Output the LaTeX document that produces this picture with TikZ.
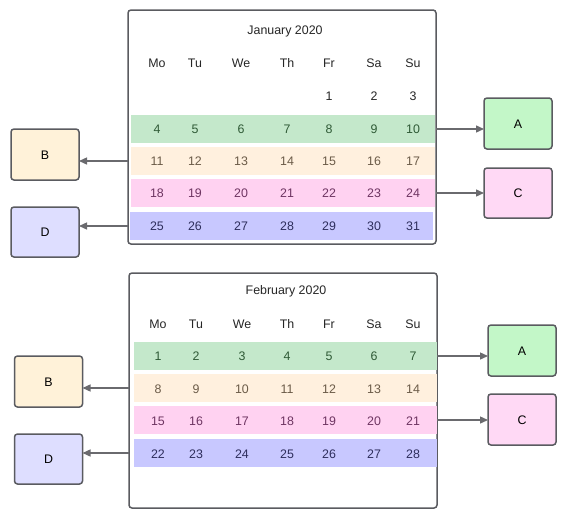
\documentclass[tikz,border=0pt]{standalone}
\usepackage{fontspec}
\setmainfont{Liberation Sans}
\usetikzlibrary{arrows.meta}
\definecolor{edgec}{HTML}{5A5B60}
\definecolor{arrc}{HTML}{6A6A6E}
\definecolor{bandG}{HTML}{C4E8CB}
\definecolor{bandB}{HTML}{FFF0DE}
\definecolor{bandP}{HTML}{FFD2F1}
\definecolor{bandV}{HTML}{C8C8FF}
\definecolor{txtG}{HTML}{2F5A36}
\definecolor{txtB}{HTML}{6B5B48}
\definecolor{txtP}{HTML}{6E3562}
\definecolor{txtV}{HTML}{2E2E5C}
\definecolor{boxA}{HTML}{C3F7C8}
\definecolor{boxB}{HTML}{FFF2D9}
\definecolor{boxC}{HTML}{FFD9F5}
\definecolor{boxD}{HTML}{DEDEFF}
\begin{document}
\begin{tikzpicture}[x=1pt,y=-1pt,
  every node/.style={font=\fontsize{12.4}{14}\selectfont, inner sep=0pt, outer sep=0pt},
  txt/.style={text height=9pt, text depth=0pt},
  frame/.style={draw=edgec, line width=1.5pt, rounded corners=3pt, fill=white},
  band/.style={minimum width=304pt, minimum height=28pt},
  tag/.style={draw=edgec, line width=1.5pt, rounded corners=3pt, minimum width=68pt, minimum height=51pt, text height=9pt, text depth=0pt},
  conn/.style={draw=arrc, line width=1.4pt, -{Triangle[length=8pt,width=7pt]}},
  lbl/.style={txt, text=black!85}
]
\useasboundingbox (0,0) rectangle (568,517);

% ---------- January ----------
\node[frame, minimum width=308pt, minimum height=234pt] (jan) at (282,127) {};
\node[lbl] (jt) at (285,30) {January 2020};
\node[band, fill=bandG] (jg) at (283,129) {};
\node[band, fill=bandB] (jb) at (283,161) {};
\node[band, fill=bandP] (jp) at (283,193) {};
\node[band, fill=bandV, minimum width=303pt] (jv) at (281.5,226) {};

\foreach \d [count=\i] in {Mo,Tu,We,Th,Fr,Sa,Su}{
  \pgfmathsetmacro{\xx}{{157,195,241,287,329,374,413}[\i-1]}
  \node[lbl] (jh\i) at (\xx,63) {\d};
}
\node[lbl] (j1) at (329,96) {1};
\node[lbl] (j2) at (374,96) {2};
\node[lbl] (j3) at (413,96) {3};
\foreach \r/\yy/\c/\s in {0/129/txtG/4,1/161/txtB/11,2/193/txtP/18,3/226/txtV/25}{
  \foreach \i in {1,...,7}{
    \pgfmathsetmacro{\xx}{{157,195,241,287,329,374,413}[\i-1]}
    \pgfmathtruncatemacro{\n}{\s+\i-1}
    \node[txt, text=\c] (jd\n) at (\xx,\yy) {\n};
  }
}

\node[tag, fill=boxA] (ja) at (518,123.5) {A};
\node[tag, fill=boxC, minimum height=50pt] (jc) at (518,193) {C};
\node[tag, fill=boxB] (jbb) at (45,154.5) {B};
\node[tag, fill=boxD, minimum height=50pt] (jd) at (45,232) {D};

\draw[conn] (jan.east |- jg.center) -- (ja.west |- jg.center);
\draw[conn] (jan.east |- jp.center) -- (jc.west |- jp.center);
\draw[conn] (jan.west |- jb.center) -- (jbb.east |- jb.center);
\draw[conn] (jan.west |- jv.center) -- (jd.east |- jv.center);

% ---------- February ----------
\node[frame, minimum width=308pt, minimum height=235pt] (feb) at (283,390.5) {};
\node[lbl] (ft) at (286,290) {February 2020};
\node[band, fill=bandG, minimum width=303pt] (fg) at (285.5,356) {};
\node[band, fill=bandB, minimum width=303pt] (fb) at (285.5,388) {};
\node[band, fill=bandP, minimum width=303pt] (fp) at (285.5,420) {};
\node[band, fill=bandV, minimum width=303pt] (fv) at (285.5,453) {};

\foreach \d [count=\i] in {Mo,Tu,We,Th,Fr,Sa,Su}{
  \pgfmathsetmacro{\xx}{{158,196,242,287,329,374,413}[\i-1]}
  \node[lbl] (fh\i) at (\xx,324) {\d};
}
\foreach \r/\yy/\c/\s in {0/356/txtG/1,1/389/txtB/8,2/421/txtP/15,3/454/txtV/22}{
  \foreach \i in {1,...,7}{
    \pgfmathsetmacro{\xx}{{158,196,242,287,329,374,413}[\i-1]}
    \pgfmathtruncatemacro{\n}{\s+\i-1}
    \node[txt, text=\c] (fd\n) at (\xx,\yy) {\n};
  }
}

\node[tag, fill=boxA] (fa) at (522,350.5) {A};
\node[tag, fill=boxC] (fc) at (522,419.5) {C};
\node[tag, fill=boxB] (fbb) at (48.5,381.5) {B};
\node[tag, fill=boxD, minimum height=50pt] (fd) at (48.5,459) {D};

\draw[conn] (feb.east |- fg.center) -- (fa.west |- fg.center);
\draw[conn] (feb.east |- fp.center) -- (fc.west |- fp.center);
\draw[conn] (feb.west |- fb.center) -- (fbb.east |- fb.center);
\draw[conn] (feb.west |- fv.center) -- (fd.east |- fv.center);
\end{tikzpicture}
\end{document}
